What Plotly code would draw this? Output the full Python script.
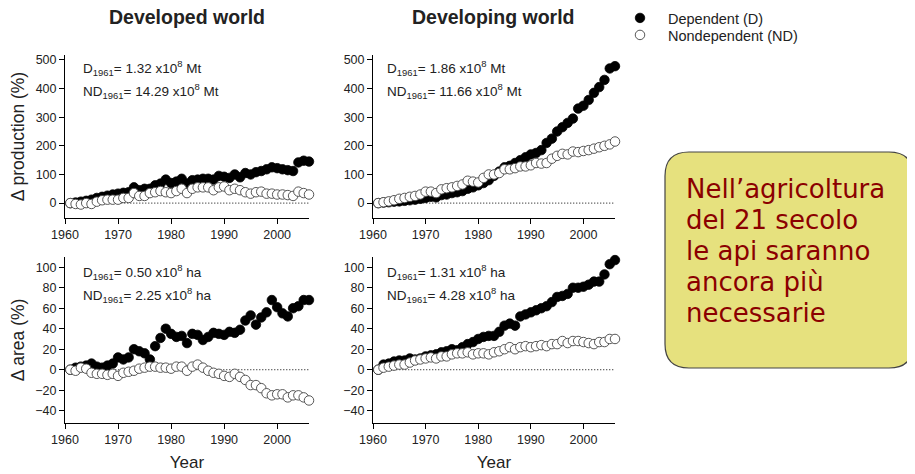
import plotly.graph_objects as go

years = list(range(1961, 2007))

# Developed world - production (% change)
dev_prod_D = [0, 2, 5, 8, 12, 18, 22, 26, 30, 33, 36, 38, 55, 45, 50, 50, 62, 68, 82, 70,
              75, 85, 68, 80, 82, 85, 85, 82, 95, 92, 88, 100, 90, 105, 100, 108, 112, 118, 125, 122,
              118, 115, 112, 142, 148, 145]
dev_prod_ND = [0, -3, -5, 0, -3, 5, 10, 12, 12, 12, 18, 18, 35, 25, 25, 35, 38, 42, 38, 35,
               42, 50, 35, 50, 55, 55, 55, 45, 55, 58, 45, 50, 45, 38, 33, 38, 40, 33, 33, 30,
               30, 28, 25, 40, 35, 30]
# Developing world - production
dvg_prod_D = [0, 2, 3, 5, 6, 8, 10, 12, 15, 18, 22, 20, 28, 30, 35, 38, 42, 50, 55, 62,
              70, 80, 95, 110, 125, 130, 140, 150, 160, 170, 175, 185, 210, 225, 250, 265, 280, 295, 330, 340,
              360, 385, 405, 430, 470, 478]
dvg_prod_ND = [0, 3, 6, 10, 15, 18, 22, 25, 30, 40, 40, 35, 48, 52, 55, 60, 65, 78, 75, 72,
               88, 100, 100, 105, 118, 118, 122, 128, 128, 132, 140, 138, 140, 155, 165, 172, 170, 180, 178, 182,
               185, 190, 195, 200, 205, 215]
# Developed world - area
dev_area_D = [0, 2, 3, 4, 6, 3, 2, 4, 6, 12, 10, 12, 20, 18, 16, 10, 23, 31, 40, 35,
              32, 33, 26, 35, 34, 29, 32, 36, 35, 34, 37, 36, 39, 48, 53, 44, 51, 56, 68, 61,
              55, 52, 60, 62, 68, 68]
dev_area_ND = [0, -1, 2, 1, -3, -4, -4, -5, -4, -6, -3, -2, -1, 1, 2, 3, 3, 2, 2, 1,
               3, 3, -1, 3, 5, 2, -1, -3, -4, -6, -7, -4, -7, -10, -15, -15, -18, -23, -25, -24,
               -24, -27, -25, -25, -27, -30]
# Developing world - area
dvg_area_D = [0, 5, 6, 8, 9, 9, 11, 10, 11, 13, 14, 15, 17, 18, 20, 19, 22, 25, 27, 30,
              32, 33, 33, 37, 43, 45, 43, 52, 54, 56, 58, 60, 62, 66, 71, 72, 74, 80, 80, 81,
              83, 86, 86, 93, 103, 107]
dvg_area_ND = [0, 2, 3, 4, 5, 5, 7, 9, 10, 11, 12, 11, 13, 13, 15, 16, 16, 17, 15, 16,
               16, 15, 17, 18, 20, 22, 20, 22, 23, 22, 23, 24, 23, 25, 25, 28, 26, 28, 28, 27,
               26, 25, 27, 27, 30, 30]

x_ticks = [1960, 1970, 1980, 1990, 2000]
prod_ticks = [0, 100, 200, 300, 400, 500]
area_ticks = [-40, -20, 0, 20, 40, 60, 80, 100]

panel_titles = ["Developed world", "Developing world"]
legend_names = ["Dependent (D)", "Nondependent (ND)"]
panel_notes = [
    ["D<sub>1961</sub>= 1.32 x10<sup>8</sup> Mt", "ND<sub>1961</sub>= 14.29 x10<sup>8</sup> Mt"],
    ["D<sub>1961</sub>= 1.86 x10<sup>8</sup> Mt", "ND<sub>1961</sub>= 11.66 x10<sup>8</sup> Mt"],
    ["D<sub>1961</sub>= 0.50 x10<sup>8</sup> ha", "ND<sub>1961</sub>= 2.25 x10<sup>8</sup> ha"],
    ["D<sub>1961</sub>= 1.31 x10<sup>8</sup> ha", "ND<sub>1961</sub>= 4.28 x10<sup>8</sup> ha"],
]
box_lines = ["Nell’agricoltura", "del 21 secolo", "le api saranno", "ancora più", "necessarie"]

W, H = 915, 474
OFF = 8  # page body margin
FONT = "Liberation Sans, Arial, sans-serif"

def px(x):
    return (x - OFF) / W

def py(y):
    return 1 - (y - OFF) / H

fig = go.Figure()

panels = [
    (dev_prod_D, dev_prod_ND, "x", "y"),
    (dvg_prod_D, dvg_prod_ND, "x2", "y2"),
    (dev_area_D, dev_area_ND, "x3", "y3"),
    (dvg_area_D, dvg_area_ND, "x4", "y4"),
]

for i, (d, nd, xa, ya) in enumerate(panels):
    fig.add_trace(go.Scatter(
        x=years, y=d, mode="markers", xaxis=xa, yaxis=ya,
        name=legend_names[0], legendgroup="D", showlegend=(i == 0), legend="legend",
        marker=dict(size=9.5, color="black", line=dict(color="black", width=0.8)),
        cliponaxis=False, hoverinfo="skip"))
    fig.add_trace(go.Scatter(
        x=years, y=nd, mode="markers", xaxis=xa, yaxis=ya,
        name=legend_names[1], legendgroup="ND", showlegend=(i == 0), legend="legend2",
        marker=dict(size=9.5, color="white", line=dict(color="#444", width=0.9)),
        cliponaxis=False, hoverinfo="skip"))
    fig.add_shape(type="line", xref=xa, yref=ya, x0=1961, x1=2006, y0=0, y1=0,
                  line=dict(color="black", width=1, dash="1px,2px"), layer="below")

x_domains = [(65, 309), (373, 615)]
y_domains = [(55, 218), (257, 423)]

axis_common = dict(showgrid=False, zeroline=False, showline=True, linecolor="black",
                   linewidth=1, ticks="outside", ticklen=5, tickwidth=1, tickcolor="black",
                   automargin=False,
                   tickfont=dict(family=FONT, size=12.5, color="#222"))

layout = dict()
for i in range(4):
    col = i % 2
    row = i // 2
    xd = x_domains[col]
    yd = y_domains[row]
    xname = "xaxis" if i == 0 else f"xaxis{i+1}"
    yname = "yaxis" if i == 0 else f"yaxis{i+1}"
    yref = "y" if i == 0 else f"y{i+1}"
    xref = "x" if i == 0 else f"x{i+1}"
    xa = dict(axis_common, domain=[px(xd[0]), px(xd[1])], range=[1960, 2006],
              tickvals=x_ticks, anchor=yref)
    if row == 1:
        xa["title"] = dict(text="Year", font=dict(family=FONT, size=17, color="#222"), standoff=10)
    ya = dict(axis_common, domain=[py(yd[1]), py(yd[0])], anchor=xref)
    if row == 0:
        ya.update(range=[-52, 517], tickvals=prod_ticks)
    else:
        ya.update(range=[-52, 110], tickvals=area_ticks)
    if col == 0:
        ya["title"] = dict(text="Δ production (%)" if row == 0 else "Δ area (%)",
                           font=dict(family=FONT, size=17.5, color="#222"), standoff=9)
    layout[xname] = xa
    layout[yname] = ya

annotations = []
title_centers = [187, 494]
for col, t in enumerate(panel_titles):
    annotations.append(dict(text=f"<b>{t}</b>", x=px(title_centers[col]), y=py(17),
                            xref="paper", yref="paper",
                            showarrow=False, xanchor="center", yanchor="middle",
                            font=dict(family=FONT, size=19.5, color="#222")))
note_pos = [(81, 68), (385, 68), (81, 272), (385, 272)]
for i, (nx, ny) in enumerate(note_pos):
    for j, line in enumerate(panel_notes[i]):
        annotations.append(dict(text=line, x=px(nx), y=py(ny + 23 * j), xref="paper", yref="paper",
                                showarrow=False, xanchor="left", yanchor="middle",
                                font=dict(family=FONT, size=13.5, color="#222")))

# rounded box
bx0, bx1, by0, by1, r = 665, 913, 152, 368, 24
def P(x, y):
    return f"{px(x):.5f},{py(y):.5f}"
path = (f"M {P(bx0 + r, by0)} L {P(bx1 - r, by0)} Q {P(bx1, by0)} {P(bx1, by0 + r)} "
        f"L {P(bx1, by1 - r)} Q {P(bx1, by1)} {P(bx1 - r, by1)} "
        f"L {P(bx0 + r, by1)} Q {P(bx0, by1)} {P(bx0, by1 - r)} "
        f"L {P(bx0, by0 + r)} Q {P(bx0, by0)} {P(bx0 + r, by0)} Z")
fig.add_shape(type="path", path=path, xref="paper", yref="paper",
              fillcolor="#E6E17E", line=dict(color="#444", width=1.2), layer="below")

for k, line in enumerate(box_lines):
    annotations.append(dict(text=line, x=px(684), y=py(189 + 31 * k), xref="paper", yref="paper",
                            showarrow=False, xanchor="left", yanchor="middle", align="left",
                            font=dict(family="DejaVu Sans, Verdana, sans-serif", size=26,
                                      color="#8B0000")))

legend_common = dict(xanchor="left", yanchor="top", itemwidth=46,
                     font=dict(family=FONT, size=14.5, color="#222"),
                     bgcolor="rgba(0,0,0,0)", itemsizing="trace")

fig.update_layout(
    template="none",
    width=W, height=H, margin=dict(l=0, r=0, t=0, b=0, autoexpand=False),
    paper_bgcolor="white", plot_bgcolor="white",
    showlegend=True,
    legend=dict(legend_common, x=px(612), y=py(2)),
    legend2=dict(legend_common, x=px(612), y=py(19)),
    annotations=annotations,
    **layout,
)

fig.write_html("out.html")
